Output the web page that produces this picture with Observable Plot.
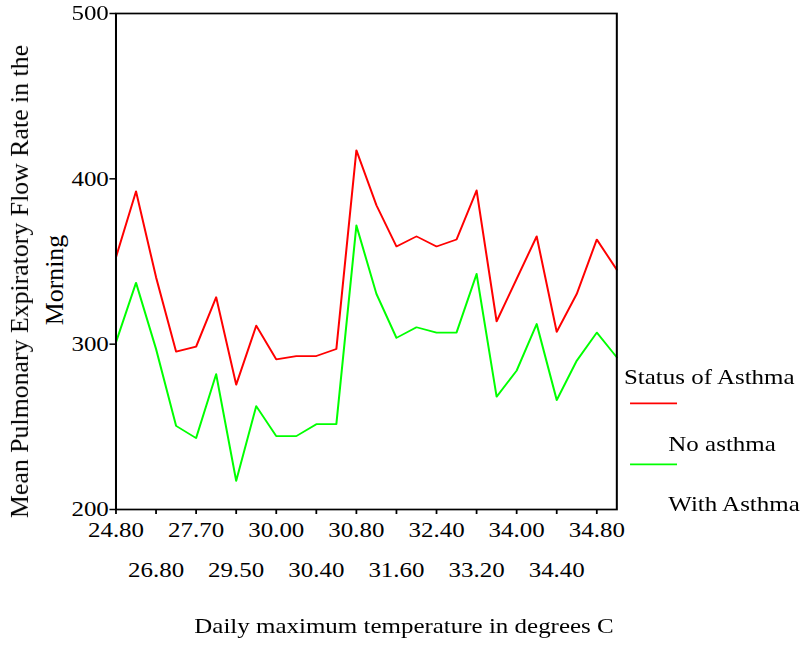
<!DOCTYPE html>
<html>
<head>
<meta charset="utf-8">
<script src="https://cdn.jsdelivr.net/npm/d3@7"></script>
<script src="https://cdn.jsdelivr.net/npm/@observablehq/plot@0.6"></script>
<style>
  html, body { margin: 0; padding: 0; background: #fff; overflow: hidden; }
  #outer { position: relative; width: 803px; height: 645px; overflow: hidden; }
  #chart { position: absolute; left: 0; top: 0; width: 675px; height: 645px;
           transform: scaleX(1.18963); transform-origin: 0 0; }
  #chart svg { overflow: visible; }
</style>
</head>
<body>
<div id="outer"><div id="chart"></div></div>
<script>
// Daily maximum temperature categories (odd entries are unlabelled in the source, estimated)
const temps = ["24.80","25.80","26.80","27.20","27.70","28.50","29.50","29.80","30.00","30.20",
               "30.40","30.60","30.80","31.20","31.60","32.00","32.40","32.80","33.20","33.60",
               "34.00","34.20","34.40","34.60","34.80","35.20"];
// Labelled ticks, first and second rows
const tickRow1 = ["24.80","27.70","30.00","30.80","32.40","34.00","34.80"];
const tickRow2 = ["26.80","29.50","30.40","31.60","33.20","34.40"];
const yTicks = [200, 300, 400, 500];

const seriesNames = ["No asthma", "With Asthma"];
const seriesColors = ["#ff0000", "#00ff00"];
const noAsthma = [352.6, 392.4, 340.5, 295.5, 298.5, 328.4, 275.5, 311.2, 290.8, 292.8,
                  292.8, 297.1, 417.3, 384.0, 359.1, 365.2, 359.1, 363.3, 393.0, 313.8,
                  339.5, 365.2, 307.4, 330.4, 363.3, 345.0];
const withAsthma = [301.1, 337.1, 297.1, 250.6, 243.2, 281.9, 217.3, 262.5, 244.4, 244.4,
                    251.6, 251.6, 371.8, 330.4, 303.8, 310.2, 307.0, 307.0, 342.5, 268.2,
                    284.0, 312.2, 266.2, 290.0, 307.0, 292.0];

const rows = [];
temps.forEach((t, i) => rows.push({temp: t, value: noAsthma[i], status: seriesNames[0]}));
temps.forEach((t, i) => rows.push({temp: t, value: withAsthma[i], status: seriesNames[1]}));

const font = "'Liberation Serif', 'Times New Roman', serif";

const chart = Plot.plot({
  width: 675,
  height: 645,
  marginLeft: 97,
  marginRight: 157,
  marginTop: 13,
  marginBottom: 136,
  style: {fontFamily: font, fontSize: "21px", color: "black", background: "white"},
  x: {type: "point", domain: temps, padding: 0, round: false, axis: null, label: null},
  y: {domain: [200, 500], axis: null, label: null},
  color: {domain: seriesNames, range: seriesColors},
  marks: [
    Plot.line(rows, {x: "temp", y: "value", z: "status", stroke: "status", strokeWidth: 1.7}),
    Plot.frame({stroke: "black", strokeWidth: 1.7}),
    Plot.axisY(yTicks, {anchor: "left", tickSize: 5, tickPadding: 1, tickFormat: d => String(d),
                        strokeWidth: 1.5, label: null}),
    Plot.axisX(tickRow1, {anchor: "bottom", tickSize: 5, tickPadding: 8, strokeWidth: 1.5, label: null}),
    Plot.axisX(tickRow2, {anchor: "bottom", tickSize: 5, tickPadding: 48, strokeWidth: 1.5, label: null})
  ]
});

document.getElementById("chart").appendChild(chart);

// Titles and legend
const svg = d3.select(chart);
const g = svg.append("g").attr("font-family", font).attr("font-size", 21)
  .attr("fill", "black").attr("text-anchor", "start");

g.append("text").attr("x", 339.6).attr("y", 633).attr("text-anchor", "middle")
  .text("Daily maximum temperature in degrees C");

g.append("text").attr("transform", "translate(23.8,281.5) rotate(-90) scale(1.23,1)")
  .attr("text-anchor", "middle").text("Mean Pulmonary Expiratory Flow Rate in the");
g.append("text").attr("transform", "translate(53,280) rotate(-90) scale(1.23,1)")
  .attr("text-anchor", "middle").text("Morning");

g.append("text").attr("x", 524.5).attr("y", 384).text("Status of Asthma");
const legendY = [403.3, 464.3];
const legendTextY = [450.7, 510.7];
seriesNames.forEach((name, i) => {
  g.append("line").attr("x1", 529.6).attr("x2", 569.1)
    .attr("y1", legendY[i]).attr("y2", legendY[i])
    .attr("stroke", seriesColors[i]).attr("stroke-width", 1.7);
  g.append("text").attr("x", 561.8).attr("y", legendTextY[i]).text(name);
});
</script>
</body>
</html>
